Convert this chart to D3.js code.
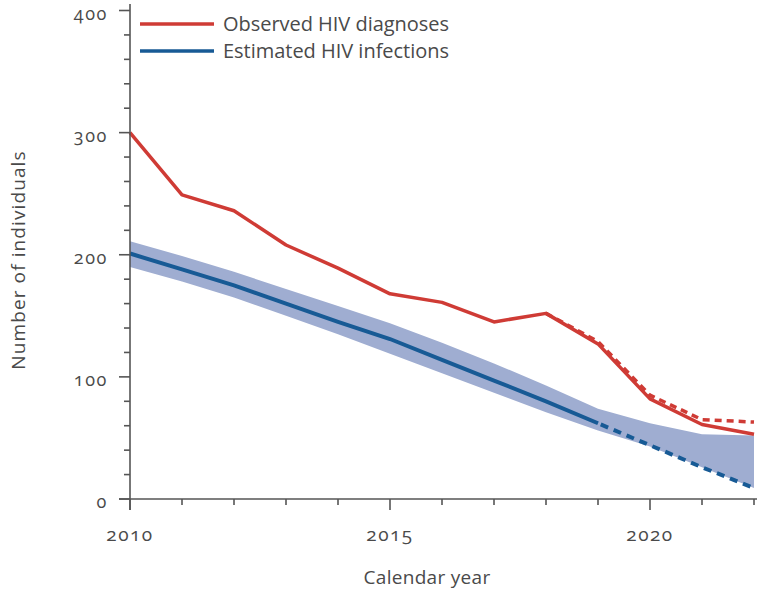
<!DOCTYPE html>
<html>
<head>
<meta charset="utf-8">
<script src="https://cdn.jsdelivr.net/npm/d3@7"></script>
<style>
  html, body { margin: 0; padding: 0; background: #fff; }
  svg text { font-family: "Open Sans", "Noto Sans", sans-serif; fill: #4a4a4a; }
  .num { font-variant-numeric: oldstyle-nums; font-feature-settings: "onum" 1; }
</style>
</head>
<body>
<svg id="chart" width="769" height="589"></svg>
<script>
// Years and values
const years = [2010, 2011, 2012, 2013, 2014, 2015, 2016, 2017, 2018, 2019, 2020, 2021, 2022];
const observed = [300, 249, 236, 208, 189, 168, 161, 145, 152, 127, 82, 61, 53];
const observedAdjYears = [2018, 2019, 2020, 2021, 2022];
const observedAdj = [152, 129, 85, 65, 63];
const estYears = [2010, 2011, 2012, 2013, 2014, 2015, 2016, 2017, 2018, 2019];
const estimated = [201, 188, 175, 160, 145, 131, 114, 97, 80, 62];
const projYears = [2019, 2020, 2021, 2022];
const projected = [62, 44, 26, 9];
const bandUpper = [211, 199, 186, 172, 158, 144, 128, 111, 93, 74, 62, 53, 52];
const bandLower = [190, 178, 165, 150, 135, 119, 103, 87, 71, 56, 43, 26, 9];
const yTicks = [0, 100, 200, 300, 400];
const xTickLabels = [2010, 2015, 2020];

const svg = d3.select("#chart");
const x = d3.scaleLinear().domain([2010, 2022]).range([130, 754]);
const y = d3.scaleLinear().domain([0, 400]).range([499, 10.5]);

const red = "#cf3b35", blue = "#175a95", band = "#9fadd1", axisCol = "#555";

// uncertainty band
svg.append("path")
  .datum(years.map((yr, i) => ({yr, lo: bandLower[i], hi: bandUpper[i]})))
  .attr("fill", band)
  .attr("d", d3.area().x(d => x(d.yr)).y0(d => y(d.lo)).y1(d => y(d.hi)));

const line = d3.line().x(d => x(d[0])).y(d => y(d[1]));

// estimated infections
svg.append("path").datum(d3.zip(estYears, estimated))
  .attr("fill", "none").attr("stroke", blue).attr("stroke-width", 4)
  .attr("d", line);
svg.append("path").datum(d3.zip(projYears, projected))
  .attr("fill", "none").attr("stroke", blue).attr("stroke-width", 4)
  .attr("stroke-dasharray", "8,6").attr("stroke-dashoffset", -3)
  .attr("d", line);

// observed diagnoses, adjusted (dashed) then reported (solid)
svg.append("path").datum(d3.zip(observedAdjYears, observedAdj))
  .attr("fill", "none").attr("stroke", red).attr("stroke-width", 3.5)
  .attr("stroke-dasharray", "7,5")
  .attr("d", line);
svg.append("path").datum(d3.zip(years, observed))
  .attr("fill", "none").attr("stroke", red).attr("stroke-width", 3.5)
  .attr("stroke-linejoin", "round")
  .attr("d", line);

// axes
const g = svg.append("g").attr("stroke", axisCol).attr("stroke-width", 1.6);
g.append("line").attr("x1", x(2010)).attr("x2", x(2010)).attr("y1", 4).attr("y2", y(0) + 11);
g.append("line").attr("x1", x(2010) - 11).attr("x2", x(2022) + 3).attr("y1", y(0)).attr("y2", y(0));
d3.range(0, 401, 20).forEach(v => {
  const major = v % 100 === 0;
  g.append("line").attr("x1", x(2010) - (major ? 11 : 6)).attr("x2", x(2010))
    .attr("y1", y(v)).attr("y2", y(v));
});
d3.range(2010, 2023).forEach(yr => {
  const major = yr % 5 === 0;
  g.append("line").attr("x1", x(yr)).attr("x2", x(yr))
    .attr("y1", y(0)).attr("y2", y(0) + (major ? 11 : 6));
});

svg.selectAll(".ylab").data(yTicks).enter().append("text").attr("class", "num")
  .attr("x", 108).attr("y", d => y(d) + 9)
  .attr("text-anchor", "end").attr("font-size", 18).attr("letter-spacing", 1.6).text(d => d);
svg.selectAll(".xlab").data(xTickLabels).enter().append("text").attr("class", "num")
  .attr("x", d => x(d)).attr("y", 534).attr("dy", "0.35em")
  .attr("text-anchor", "middle").attr("font-size", 19).attr("letter-spacing", 1.5).text(d => d);

svg.append("text").attr("x", 427).attr("y", 577).attr("dy", "0.35em")
  .attr("text-anchor", "middle").attr("font-size", 19).attr("letter-spacing", 0.3).text("Calendar year");
svg.append("text").attr("transform", "translate(18,260) rotate(-90)").attr("dy", "0.35em")
  .attr("text-anchor", "middle").attr("font-size", 19).attr("letter-spacing", 1.1).text("Number of individuals");

// legend
const legend = [["Observed HIV diagnoses", red], ["Estimated HIV infections", blue]];
legend.forEach((d, i) => {
  const ly = 24 + i * 27;
  svg.append("line").attr("x1", 140).attr("x2", 214).attr("y1", ly).attr("y2", ly)
    .attr("stroke", d[1]).attr("stroke-width", 3.5);
  svg.append("text").attr("x", 223).attr("y", ly).attr("dy", "0.35em")
    .attr("font-size", 20).attr("textLength", 226).attr("lengthAdjust", "spacing").text(d[0]);
});
</script>
</body>
</html>
